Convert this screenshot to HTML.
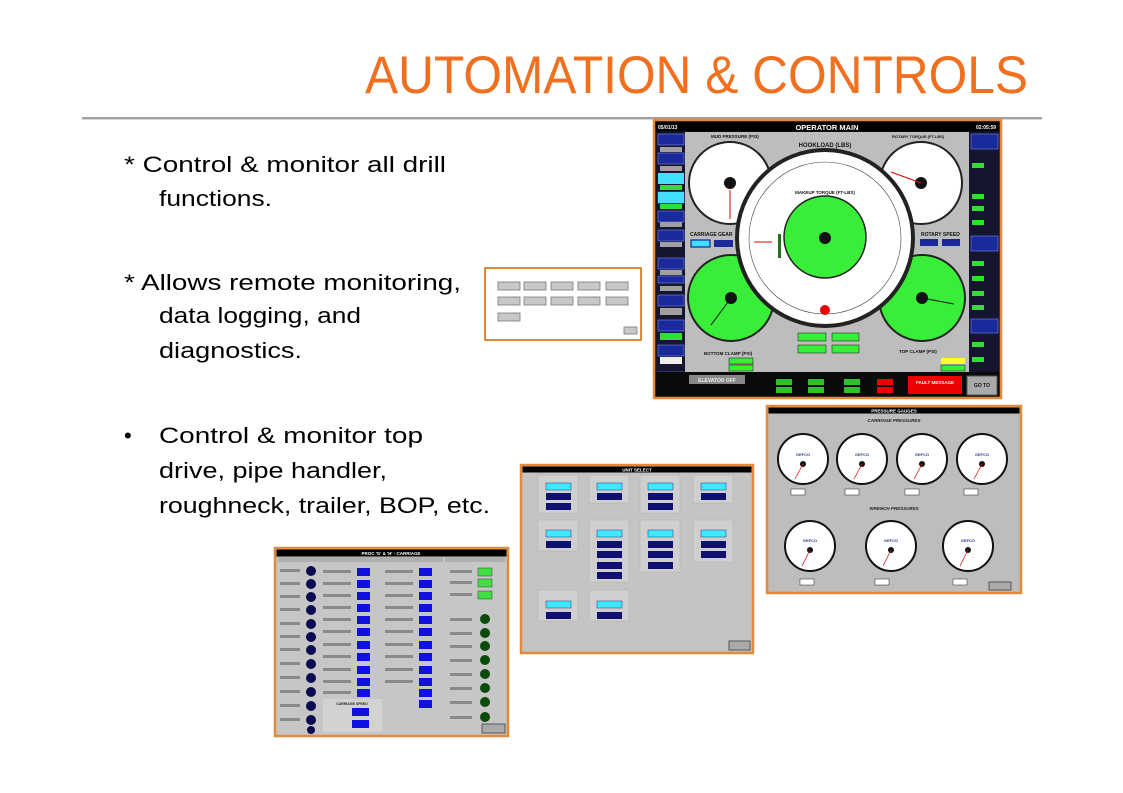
<!DOCTYPE html>
<html><head><meta charset="utf-8"><style>
html,body{margin:0;padding:0;background:#fff;}
svg{display:block;}
.t{font-family:"Liberation Sans",sans-serif;fill:#000;font-size:22px;}
.s{font-family:"Liberation Sans",sans-serif;font-weight:bold;}
</style></head><body>
<svg width="1123" height="793" viewBox="0 0 1123 793" xmlns="http://www.w3.org/2000/svg">
<rect width="1123" height="793" fill="#fff"/>
<text x="1028" y="93" text-anchor="end" textLength="663" lengthAdjust="spacingAndGlyphs" font-family="Liberation Sans, sans-serif" font-size="53" fill="#f07020">AUTOMATION &amp; CONTROLS</text>
<rect x="82" y="117" width="960" height="2" fill="#a0a0a0"/>
<rect x="82" y="119" width="960" height="1" fill="#d8d8d8"/>

<text class="t" x="124" y="172" textLength="322" lengthAdjust="spacingAndGlyphs">* Control &amp; monitor all drill</text>
<text class="t" x="159" y="206" textLength="113" lengthAdjust="spacingAndGlyphs">functions.</text>
<text class="t" x="124" y="290" textLength="337" lengthAdjust="spacingAndGlyphs">* Allows remote monitoring,</text>
<text class="t" x="159" y="323" textLength="202" lengthAdjust="spacingAndGlyphs">data logging, and</text>
<text class="t" x="159" y="358" textLength="143" lengthAdjust="spacingAndGlyphs">diagnostics.</text>
<text class="t" x="124" y="443">•</text>
<text class="t" x="159" y="443" textLength="264" lengthAdjust="spacingAndGlyphs">Control &amp; monitor top</text>
<text class="t" x="159" y="478" textLength="228" lengthAdjust="spacingAndGlyphs">drive, pipe handler,</text>
<text class="t" x="159" y="513" textLength="331" lengthAdjust="spacingAndGlyphs">roughneck, trailer, BOP, etc.</text>

<!-- small menu panel -->
<g transform="translate(484,267)">
<rect x="1" y="1" width="156" height="72" fill="#fff" stroke="#e08a3a" stroke-width="2"/>
<g fill="#c8c8c8" stroke="#777" stroke-width="0.8">
<rect x="14" y="15" width="22" height="8"/><rect x="40" y="15" width="22" height="8"/><rect x="67" y="15" width="22" height="8"/><rect x="94" y="15" width="22" height="8"/><rect x="122" y="15" width="22" height="8"/>
<rect x="14" y="30" width="22" height="8"/><rect x="40" y="30" width="22" height="8"/><rect x="67" y="30" width="22" height="8"/><rect x="94" y="30" width="22" height="8"/><rect x="122" y="30" width="22" height="8"/>
<rect x="14" y="46" width="22" height="8"/><rect x="140" y="60" width="13" height="7"/>
</g></g>

<!-- OPERATOR MAIN -->
<g transform="translate(654,120)">
<rect x="0" y="0" width="347" height="278" fill="#151530" stroke="#e08a3a" stroke-width="2.5"/>
<rect x="31" y="12" width="284" height="240" fill="#bdbdbd"/>
<rect x="1.5" y="1.5" width="344" height="10" fill="#000"/>
<text x="173" y="10" text-anchor="middle" class="s" font-size="7.5" fill="#fff">OPERATOR MAIN</text>
<text x="4" y="9" class="s" font-size="5" fill="#fff">05/01/13</text>
<text x="342" y="9" text-anchor="end" class="s" font-size="5" fill="#fff">02:05:59</text>
<!-- left column -->
<g fill="#1a2a9a" stroke="#8898ff" stroke-width="0.5">
<rect x="4" y="14" width="26" height="11"/><rect x="4" y="33" width="26" height="11"/>
<rect x="4" y="72" width="26" height="11"/><rect x="4" y="91" width="26" height="11"/><rect x="4" y="110" width="26" height="11"/>
<rect x="4" y="138" width="26" height="11"/><rect x="4" y="156" width="26" height="7"/><rect x="4" y="175" width="26" height="11"/>
<rect x="4" y="200" width="26" height="11"/><rect x="4" y="225" width="26" height="11"/><rect x="4" y="252" width="26" height="10"/>
</g>
<rect x="4" y="53" width="26" height="11" fill="#40e0ff"/><rect x="4" y="72" width="26" height="11" fill="#40e0ff"/>
<g fill="#a0a0a0"><rect x="6" y="27" width="22" height="5"/><rect x="6" y="46" width="22" height="5"/><rect x="6" y="102" width="22" height="5"/><rect x="6" y="122" width="22" height="5"/><rect x="6" y="150" width="22" height="5"/><rect x="6" y="166" width="22" height="5"/><rect x="6" y="188" width="22" height="7"/></g>
<g fill="#30e030"><rect x="6" y="65" width="22" height="5"/><rect x="6" y="84" width="22" height="5"/><rect x="6" y="213" width="22" height="7"/></g>
<g fill="#eeeeee"><rect x="6" y="237" width="22" height="7"/><rect x="6" y="263" width="22" height="7"/></g>
<!-- right column -->
<g fill="#1a2a9a" stroke="#8898ff" stroke-width="0.5">
<rect x="317" y="14" width="27" height="15"/><rect x="317" y="116" width="27" height="15"/><rect x="317" y="199" width="27" height="14"/>
</g>
<g fill="#30e030"><rect x="318" y="43" width="12" height="5"/><rect x="318" y="74" width="12" height="5"/><rect x="318" y="86" width="12" height="5"/><rect x="318" y="100" width="12" height="5"/><rect x="318" y="141" width="12" height="5"/><rect x="318" y="156" width="12" height="5"/><rect x="318" y="171" width="12" height="5"/><rect x="318" y="185" width="12" height="5"/><rect x="318" y="222" width="12" height="5"/><rect x="318" y="237" width="12" height="5"/></g>
<!-- gauges -->
<circle cx="76" cy="63" r="41" fill="#fff" stroke="#222" stroke-width="2"/>
<circle cx="76" cy="63" r="6" fill="#111"/><line x1="76" y1="70" x2="76" y2="99" stroke="#d00" stroke-width="1"/>
<circle cx="267" cy="63" r="41" fill="#fff" stroke="#222" stroke-width="2"/>
<circle cx="267" cy="63" r="6" fill="#111"/><line x1="267" y1="63" x2="237" y2="52" stroke="#d00" stroke-width="1"/>
<circle cx="77" cy="178" r="43" fill="#38ee38" stroke="#222" stroke-width="2"/>
<circle cx="77" cy="178" r="6" fill="#111"/><line x1="77" y1="178" x2="57" y2="205" stroke="#111"/>
<circle cx="268" cy="178" r="43" fill="#38ee38" stroke="#222" stroke-width="2"/>
<circle cx="268" cy="178" r="6" fill="#111"/><line x1="268" y1="178" x2="300" y2="184" stroke="#111"/>
<circle cx="171" cy="118" r="88" fill="#fff" stroke="#222" stroke-width="4"/>
<circle cx="171" cy="118" r="76" fill="none" stroke="#444" stroke-width="0.6"/>
<circle cx="171" cy="117" r="41" fill="#38ee38" stroke="#222" stroke-width="1.5"/>
<circle cx="171" cy="118" r="6" fill="#111"/>
<rect x="124" y="114" width="3" height="24" fill="#207020"/>
<line x1="100" y1="122" x2="118" y2="122" stroke="#d00"/>
<circle cx="171" cy="190" r="5" fill="#e00"/>
<text x="171" y="27" text-anchor="middle" class="s" font-size="6" fill="#111">HOOKLOAD (LBS)</text>
<text x="171" y="74" text-anchor="middle" class="s" font-size="4.5" fill="#111">MAKEUP TORQUE (FT-LBS)</text>
<text x="57" y="18" class="s" font-size="4.5" fill="#111">MUD PRESSURE (PSI)</text>
<text x="238" y="18" class="s" font-size="4" fill="#111">ROTARY TORQUE (FT-LBS)</text>
<text x="36" y="116" class="s" font-size="5" fill="#111">CARRIAGE GEAR</text>
<rect x="37" y="120" width="19" height="7" fill="#40e0ff" stroke="#008"/><rect x="60" y="120" width="19" height="7" fill="#1a2a9a"/>
<text x="267" y="116" class="s" font-size="5" fill="#111">ROTARY SPEED</text>
<rect x="266" y="119" width="18" height="7" fill="#1a2a9a"/><rect x="288" y="119" width="18" height="7" fill="#1a2a9a"/>
<g fill="#38ee38" stroke="#111" stroke-width="0.5"><rect x="144" y="213" width="28" height="8"/><rect x="178" y="213" width="27" height="8"/><rect x="144" y="225" width="28" height="8"/><rect x="178" y="225" width="27" height="8"/><rect x="75" y="238" width="24" height="6"/><rect x="75" y="245" width="24" height="6"/><rect x="287" y="245" width="24" height="6"/></g>
<rect x="287" y="238" width="24" height="6" fill="#ffff30"/>
<text x="50" y="235" class="s" font-size="4.5" fill="#111">BOTTOM CLAMP (PSI)</text>
<text x="245" y="233" class="s" font-size="4.5" fill="#111">TOP CLAMP (PSI)</text>
<!-- bottom bar -->
<rect x="1.5" y="252" width="344" height="24.5" fill="#0a0a0a"/>
<rect x="35" y="255" width="56" height="9" fill="#888"/>
<text x="63" y="262" text-anchor="middle" class="s" font-size="5" fill="#eee">ELEVATOR OFF</text>
<g fill="#30c030"><rect x="122" y="259" width="16" height="6"/><rect x="122" y="267" width="16" height="6"/><rect x="154" y="259" width="16" height="6"/><rect x="154" y="267" width="16" height="6"/><rect x="190" y="259" width="16" height="6"/><rect x="190" y="267" width="16" height="6"/></g>
<g fill="#e00"><rect x="223" y="259" width="16" height="6"/><rect x="223" y="267" width="16" height="6"/><rect x="254" y="256" width="54" height="18"/></g>
<text x="281" y="264" text-anchor="middle" class="s" font-size="4.5" fill="#fff">FAULT MESSAGE</text>
<rect x="313" y="256" width="30" height="19" fill="#aaa" stroke="#555"/>
<text x="328" y="267" text-anchor="middle" class="s" font-size="5" fill="#111">GO TO</text>
</g>

<!-- PRESSURE GAUGES -->
<g transform="translate(767,406)">
<rect x="0" y="0" width="254" height="187" fill="#bdbdbd" stroke="#e08a3a" stroke-width="2.5"/>
<rect x="1.5" y="1.5" width="251" height="6" fill="#000"/>
<text x="127" y="6.5" text-anchor="middle" class="s" font-size="4.5" fill="#fff">PRESSURE GAUGES</text>
<text x="127" y="16" text-anchor="middle" class="s" font-size="4.5" fill="#222" font-style="italic">CARRIAGE PRESSURES</text>
<text x="127" y="104" text-anchor="middle" class="s" font-size="4.5" fill="#222" font-style="italic">WRENCH PRESSURES</text>
<g stroke="#111" stroke-width="2" fill="#fff">
<circle cx="36" cy="53" r="25"/><circle cx="95" cy="53" r="25"/><circle cx="155" cy="53" r="25"/><circle cx="215" cy="53" r="25"/>
<circle cx="43" cy="140" r="25"/><circle cx="124" cy="140" r="25"/><circle cx="201" cy="140" r="25"/>
</g>
<g fill="#111"><circle cx="36" cy="58" r="3"/><circle cx="95" cy="58" r="3"/><circle cx="155" cy="58" r="3"/><circle cx="215" cy="58" r="3"/><circle cx="43" cy="144" r="3"/><circle cx="124" cy="144" r="3"/><circle cx="201" cy="144" r="3"/></g>
<g stroke="#d00" stroke-width="0.7"><line x1="36" y1="58" x2="28" y2="73"/><line x1="95" y1="58" x2="87" y2="73"/><line x1="155" y1="58" x2="147" y2="73"/><line x1="215" y1="58" x2="207" y2="73"/><line x1="43" y1="144" x2="35" y2="160"/><line x1="124" y1="144" x2="116" y2="160"/><line x1="201" y1="144" x2="193" y2="160"/></g>
<g class="s" font-size="4" fill="#2a3a8a" text-anchor="middle"><text x="36" y="50">GEFCO</text><text x="95" y="50">GEFCO</text><text x="155" y="50">GEFCO</text><text x="215" y="50">GEFCO</text><text x="43" y="136">GEFCO</text><text x="124" y="136">GEFCO</text><text x="201" y="136">GEFCO</text></g>
<g fill="#fff" stroke="#222" stroke-width="0.5"><rect x="24" y="83" width="14" height="6"/><rect x="78" y="83" width="14" height="6"/><rect x="138" y="83" width="14" height="6"/><rect x="197" y="83" width="14" height="6"/><rect x="33" y="173" width="14" height="6"/><rect x="108" y="173" width="14" height="6"/><rect x="186" y="173" width="14" height="6"/></g>
<rect x="222" y="176" width="22" height="8" fill="#aaa" stroke="#555"/>
</g>

<!-- UNIT SELECT -->
<g transform="translate(521,465)">
<rect x="0" y="0" width="232" height="188" fill="#c4c4c4" stroke="#e08a3a" stroke-width="2.5"/>
<rect x="1.5" y="1.5" width="229" height="6" fill="#000"/>
<text x="116" y="6.5" text-anchor="middle" class="s" font-size="4.5" fill="#fff">UNIT SELECT</text>
<g fill="#cfcfcf" stroke="#b0b0b0" stroke-width="0.5">
<rect x="17" y="10" width="40" height="38"/><rect x="68" y="10" width="40" height="28"/><rect x="119" y="10" width="40" height="38"/><rect x="172" y="10" width="40" height="28"/>
<rect x="17" y="55" width="40" height="31"/><rect x="68" y="55" width="40" height="62"/><rect x="119" y="55" width="40" height="52"/><rect x="172" y="55" width="40" height="42"/>
<rect x="17" y="125" width="40" height="31"/><rect x="68" y="125" width="40" height="31"/>
</g>
<g fill="#40e8ff" stroke="#116" stroke-width="0.4">
<rect x="25" y="18" width="25" height="7"/><rect x="76" y="18" width="25" height="7"/><rect x="127" y="18" width="25" height="7"/><rect x="180" y="18" width="25" height="7"/>
<rect x="25" y="65" width="25" height="7"/><rect x="76" y="65" width="25" height="7"/><rect x="127" y="65" width="25" height="7"/><rect x="180" y="65" width="25" height="7"/>
<rect x="25" y="136" width="25" height="7"/><rect x="76" y="136" width="25" height="7"/>
</g>
<g fill="#101070">
<rect x="25" y="28" width="25" height="7"/><rect x="25" y="38" width="25" height="7"/><rect x="76" y="28" width="25" height="7"/><rect x="127" y="28" width="25" height="7"/><rect x="127" y="38" width="25" height="7"/><rect x="180" y="28" width="25" height="7"/>
<rect x="25" y="76" width="25" height="7"/><rect x="76" y="76" width="25" height="7"/><rect x="76" y="86" width="25" height="7"/><rect x="76" y="97" width="25" height="7"/><rect x="76" y="107" width="25" height="7"/>
<rect x="127" y="76" width="25" height="7"/><rect x="127" y="86" width="25" height="7"/><rect x="127" y="97" width="25" height="7"/><rect x="180" y="76" width="25" height="7"/><rect x="180" y="86" width="25" height="7"/>
<rect x="25" y="147" width="25" height="7"/><rect x="76" y="147" width="25" height="7"/>
</g>
<rect x="208" y="176" width="21" height="9" fill="#aaa" stroke="#555"/>
</g>

<!-- PROC CARRIAGE -->
<g transform="translate(275,548)">
<rect x="0" y="0" width="233" height="188" fill="#c6c6c6" stroke="#e08a3a" stroke-width="2.5"/>
<rect x="1.5" y="1.5" width="230" height="7" fill="#000"/>
<text x="116" y="7" text-anchor="middle" class="s" font-size="4.5" fill="#fff">PROC 'G' &amp; 'H' - CARRIAGE</text>
<rect x="3" y="9" width="165" height="5" fill="#b0b0b0"/><rect x="170" y="9" width="60" height="5" fill="#b0b0b0"/>
<g fill="#0a0a50">
<circle cx="36" cy="23" r="5"/><circle cx="36" cy="36" r="5"/><circle cx="36" cy="49" r="5"/><circle cx="36" cy="62" r="5"/><circle cx="36" cy="76" r="5"/><circle cx="36" cy="89" r="5"/><circle cx="36" cy="102" r="5"/><circle cx="36" cy="116" r="5"/><circle cx="36" cy="130" r="5"/><circle cx="36" cy="144" r="5"/><circle cx="36" cy="158" r="5"/><circle cx="36" cy="172" r="5"/><circle cx="36" cy="182" r="4"/>
</g>
<g fill="#1010e0">
<rect x="82" y="20" width="13" height="8"/><rect x="82" y="32" width="13" height="8"/><rect x="82" y="44" width="13" height="8"/><rect x="82" y="56" width="13" height="8"/><rect x="82" y="68" width="13" height="8"/><rect x="82" y="80" width="13" height="8"/><rect x="82" y="93" width="13" height="8"/><rect x="82" y="105" width="13" height="8"/><rect x="82" y="118" width="13" height="8"/><rect x="82" y="130" width="13" height="8"/><rect x="82" y="141" width="13" height="8"/>
<rect x="144" y="20" width="13" height="8"/><rect x="144" y="32" width="13" height="8"/><rect x="144" y="44" width="13" height="8"/><rect x="144" y="56" width="13" height="8"/><rect x="144" y="68" width="13" height="8"/><rect x="144" y="80" width="13" height="8"/><rect x="144" y="93" width="13" height="8"/><rect x="144" y="105" width="13" height="8"/><rect x="144" y="118" width="13" height="8"/><rect x="144" y="130" width="13" height="8"/><rect x="144" y="141" width="13" height="8"/><rect x="144" y="152" width="13" height="8"/>
</g>
<rect x="48" y="151" width="59" height="33" fill="#d2d2d2"/>
<text x="77" y="157" text-anchor="middle" class="s" font-size="3.5" fill="#222">CARRIAGE SPEED</text>
<rect x="77" y="160" width="17" height="8" fill="#1010e0"/><rect x="77" y="172" width="17" height="8" fill="#1010e0"/>
<g fill="#40e040" stroke="#222" stroke-width="0.4"><rect x="203" y="20" width="14" height="8"/><rect x="203" y="31" width="14" height="8"/><rect x="203" y="43" width="14" height="8"/></g>
<g fill="#0a4a0a"><circle cx="210" cy="71" r="5"/><circle cx="210" cy="85" r="5"/><circle cx="210" cy="98" r="5"/><circle cx="210" cy="112" r="5"/><circle cx="210" cy="126" r="5"/><circle cx="210" cy="140" r="5"/><circle cx="210" cy="154" r="5"/><circle cx="210" cy="169" r="5"/></g>
<rect x="207" y="176" width="23" height="9" fill="#aaa" stroke="#555"/>
<g fill="#8a8a8a"><rect x="5" y="21" width="20" height="3"/><rect x="5" y="34" width="20" height="3"/><rect x="5" y="47" width="20" height="3"/><rect x="5" y="60" width="20" height="3"/><rect x="5" y="74" width="20" height="3"/><rect x="5" y="87" width="20" height="3"/><rect x="5" y="100" width="20" height="3"/><rect x="5" y="114" width="20" height="3"/><rect x="5" y="128" width="20" height="3"/><rect x="5" y="142" width="20" height="3"/><rect x="5" y="156" width="20" height="3"/><rect x="5" y="170" width="20" height="3"/>
<rect x="48" y="22" width="28" height="3"/><rect x="48" y="34" width="28" height="3"/><rect x="48" y="46" width="28" height="3"/><rect x="48" y="58" width="28" height="3"/><rect x="48" y="70" width="28" height="3"/><rect x="48" y="82" width="28" height="3"/><rect x="48" y="95" width="28" height="3"/><rect x="48" y="107" width="28" height="3"/><rect x="48" y="120" width="28" height="3"/><rect x="48" y="132" width="28" height="3"/><rect x="48" y="143" width="28" height="3"/>
<rect x="110" y="22" width="28" height="3"/><rect x="110" y="34" width="28" height="3"/><rect x="110" y="46" width="28" height="3"/><rect x="110" y="58" width="28" height="3"/><rect x="110" y="70" width="28" height="3"/><rect x="110" y="82" width="28" height="3"/><rect x="110" y="95" width="28" height="3"/><rect x="110" y="107" width="28" height="3"/><rect x="110" y="120" width="28" height="3"/><rect x="110" y="132" width="28" height="3"/>
<rect x="175" y="22" width="22" height="3"/><rect x="175" y="33" width="22" height="3"/><rect x="175" y="45" width="22" height="3"/><rect x="175" y="70" width="22" height="3"/><rect x="175" y="84" width="22" height="3"/><rect x="175" y="97" width="22" height="3"/><rect x="175" y="111" width="22" height="3"/><rect x="175" y="125" width="22" height="3"/><rect x="175" y="139" width="22" height="3"/><rect x="175" y="153" width="22" height="3"/><rect x="175" y="168" width="22" height="3"/></g>
</g>
</svg>
</body></html>
